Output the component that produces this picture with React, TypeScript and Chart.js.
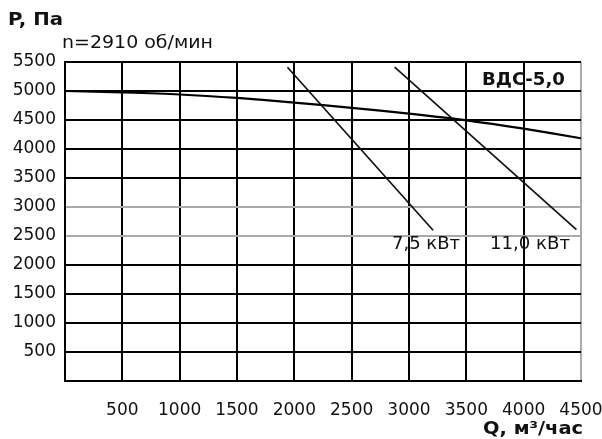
import React, { useEffect, useRef } from "react";
import { Chart, registerables } from "chart.js";

Chart.register(...registerables);

// Fan curve Q (m³/h) vs P (Pa)
const flowQ = [0, 500, 1000, 1500, 2000, 2500, 3000, 3500, 4000, 4500];
const pressureP = [5000, 4975, 4940, 4880, 4800, 4710, 4610, 4495, 4350, 4185];

// Motor power limit lines
const line75Q = [1940, 3210];
const line75P = [5410, 2600];
const line110Q = [2875, 4460];
const line110P = [5410, 2610];

const xTicksMax = 4500;
const yTicksMax = 5500;
const tickStep = 500;
const grayYTicks = [2500, 3000];
const grayXTicks = [4500];

const FONT = "'DejaVu Sans', sans-serif";

function stretchText(ctx: any, text: string, left: number, y: number, font: string, width: number) {
  ctx.font = font;
  const w = ctx.measureText(text).width;
  const k = width / w;
  ctx.save();
  ctx.translate(left, y);
  ctx.scale(k, 1);
  ctx.textAlign = "left";
  ctx.fillText(text, 0, 0);
  ctx.restore();
}

const textPlugin = {
  id: "texts",
  afterDraw(chart: any) {
    const ctx = chart.ctx;
    ctx.save();
    ctx.fillStyle = "#111";
    ctx.textBaseline = "middle";

    stretchText(ctx, "P, Па", 8, 21, `bold 17px ${FONT}`, 55);
    stretchText(ctx, "n=2910 об/мин", 62, 44, `17px ${FONT}`, 151);
    stretchText(ctx, "ВДС-5,0", 482, 80, `bold 18px ${FONT}`, 83);
    stretchText(ctx, "7,5 кВт", 392, 245, `17px ${FONT}`, 68);
    stretchText(ctx, "11,0 кВт", 490, 245, `17px ${FONT}`, 80);
    stretchText(ctx, "Q, м³/час", 483, 430, `bold 17px ${FONT}`, 100);
    ctx.restore();
  },
};

export default function App() {
  const ref = useRef<HTMLCanvasElement>(null);
  useEffect(() => {
    document.body.style.margin = "0";
    const curve = flowQ.map((q, i) => ({ x: q, y: pressureP[i] }));
    const l75 = line75Q.map((q, i) => ({ x: q, y: line75P[i] }));
    const l110 = line110Q.map((q, i) => ({ x: q, y: line110P[i] }));
    const chart = new Chart(ref.current!, {
      type: "scatter",
      data: {
        datasets: [
          { data: curve, showLine: true, borderColor: "#000", borderWidth: 2.2, pointRadius: 0, tension: 0.3 },
          { data: l75, showLine: true, borderColor: "#111", borderWidth: 1.7, pointRadius: 0 },
          { data: l110, showLine: true, borderColor: "#111", borderWidth: 1.7, pointRadius: 0 },
        ],
      },
      options: {
        responsive: false,
        animation: false,
        layout: { padding: { top: 62, right: 21, left: 0, bottom: 0 } },
        plugins: { legend: { display: false }, tooltip: { enabled: false } },
        scales: {
          x: {
            type: "linear",
            min: 0,
            max: xTicksMax,
            afterFit: (s: any) => { s.height = 58; s.paddingLeft = 0; s.paddingRight = 0; },
            ticks: {
              stepSize: tickStep,
              color: "#111",
              font: { family: FONT, size: 17 },
              padding: 19,
              maxRotation: 0,
              callback: (v: any) => (v === 0 ? "" : String(v)),
            },
            grid: {
              drawTicks: false,
              lineWidth: 2,
              color: (c: any) => (grayXTicks.includes(c.tick?.value) ? "#aaa" : "#000"),
            },
            border: { color: "#000", width: 2 },
          },
          y: {
            type: "linear",
            min: 0,
            max: yTicksMax,
            afterFit: (s: any) => { s.width = 65; s.paddingTop = 0; s.paddingBottom = 0; },
            ticks: {
              stepSize: tickStep,
              color: "#111",
              font: { family: FONT, size: 17 },
              padding: 9,
              callback: (v: any) => (v === 0 ? "" : String(v)),
            },
            grid: {
              drawTicks: false,
              lineWidth: 2,
              color: (c: any) => (grayYTicks.includes(c.tick?.value) ? "#aaa" : "#000"),
            },
            border: { color: "#000", width: 2 },
          },
        },
      },
      plugins: [textPlugin],
    });
    return () => chart.destroy();
  }, []);
  return (
    <div style={{ width: 602, height: 439, background: "#fff" }}>
      <canvas ref={ref} width={602} height={439} />
    </div>
  );
}
